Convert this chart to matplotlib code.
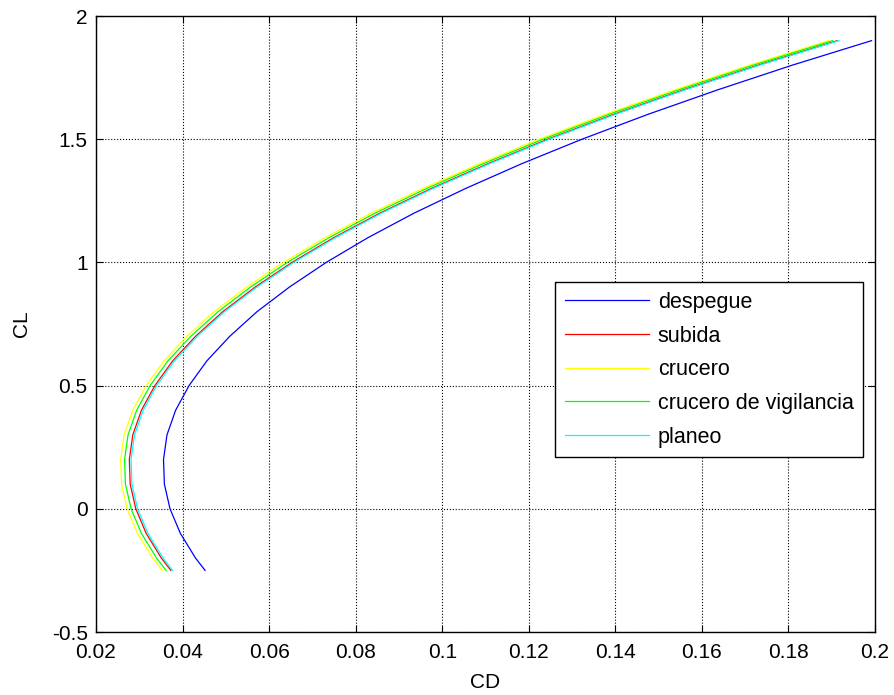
import numpy as np
import matplotlib.pyplot as plt

plt.rcParams['font.family'] = ['Liberation Sans', 'DejaVu Sans']

# CL values shared by all curves
cl = [-0.25, -0.2, -0.1, 0.0, 0.1, 0.2, 0.3, 0.4, 0.5, 0.6, 0.7, 0.8,
      0.9, 1.0, 1.1, 1.2, 1.3, 1.4, 1.5, 1.6, 1.7, 1.8, 1.9]

# CD values
cd_despegue = [0.0452, 0.0430, 0.0395, 0.0371, 0.0358, 0.0356, 0.0364, 0.0384,
               0.0415, 0.0456, 0.0509, 0.0572, 0.0647, 0.0732, 0.0828, 0.0935,
               0.1054, 0.1183, 0.1323, 0.1474, 0.1636, 0.1808, 0.1992]
cd_subida = [0.0373, 0.0351, 0.0316, 0.0292, 0.0279, 0.0277, 0.0285, 0.0305,
             0.0336, 0.0377, 0.0430, 0.0493, 0.0568, 0.0653, 0.0749, 0.0856,
             0.0975, 0.1105, 0.1244, 0.1395, 0.1557, 0.1729, 0.1913]
cd_crucero = [0.0353, 0.0331, 0.0296, 0.0272, 0.0259, 0.0257, 0.0265, 0.0285,
              0.0316, 0.0357, 0.0410, 0.0473, 0.0548, 0.0633, 0.0729, 0.0836,
              0.0955, 0.1085, 0.1224, 0.1375, 0.1537, 0.1709, 0.1893]
cd_vigilancia = [0.0362, 0.0340, 0.0305, 0.0281, 0.0268, 0.0266, 0.0274, 0.0294,
                 0.0325, 0.0366, 0.0419, 0.0482, 0.0557, 0.0642, 0.0738, 0.0845,
                 0.0964, 0.1094, 0.1233, 0.1384, 0.1546, 0.1718, 0.1902]
cd_planeo = [0.0377, 0.0355, 0.0320, 0.0296, 0.0283, 0.0281, 0.0289, 0.0309,
             0.0340, 0.0381, 0.0434, 0.0497, 0.0572, 0.0657, 0.0753, 0.0860,
             0.0979, 0.1109, 0.1248, 0.1399, 0.1561, 0.1733, 0.1917]

xticks = [0.02, 0.04, 0.06, 0.08, 0.1, 0.12, 0.14, 0.16, 0.18, 0.2]
xlabels = ['0.02', '0.04', '0.06', '0.08', '0.1', '0.12', '0.14', '0.16', '0.18', '0.2']
yticks = [-0.5, 0, 0.5, 1, 1.5, 2]
ylabels = ['-0.5', '0', '0.5', '1', '1.5', '2']

fig = plt.figure(figsize=(8.95, 6.95), dpi=100)
ax = fig.add_axes([96/895, 1-632/695, 779/895, 616/695])

lw = 0.9
ax.plot(cd_despegue, cl, color=(0, 0, 1), lw=lw, label='despegue')
ax.plot(cd_subida, cl, color=(1, 0, 0), lw=lw, label='subida')
ax.plot(cd_crucero, cl, color=(1, 1, 0), lw=lw, label='crucero')
ax.plot(cd_vigilancia, cl, color=(0, 1, 0), lw=lw, label='crucero de vigilancia')
ax.plot(cd_planeo, cl, color=(0, 1, 1), lw=lw, label='planeo')

ax.set_xlim(0.02, 0.2)
ax.set_ylim(-0.5, 2)
ax.set_xticks(xticks)
ax.set_xticklabels(xlabels)
ax.set_yticks(yticks)
ax.set_yticklabels(ylabels)
ax.tick_params(direction='in', length=5, width=0.8, top=True, right=True,
               labelsize=15)
ax.tick_params(axis='x', pad=8)
ax.tick_params(axis='y', pad=6)
ax.grid(True, linestyle=':', color='black', linewidth=0.8)
for s in ax.spines.values():
    s.set_linewidth(1.0)

ax.set_xlabel('CD', fontsize=15, labelpad=7.5)
ax.set_ylabel('CL', fontsize=15, labelpad=15)

leg = ax.legend(loc='upper right', bbox_to_anchor=(0.985, 0.568), fontsize=15.5,
                handlelength=3.9, handletextpad=0.4, borderpad=0.45,
                labelspacing=0.59, fancybox=False, framealpha=1,
                edgecolor='black', borderaxespad=0)
leg.get_frame().set_linewidth(1.0)

fig.savefig('out.png', dpi=100)
